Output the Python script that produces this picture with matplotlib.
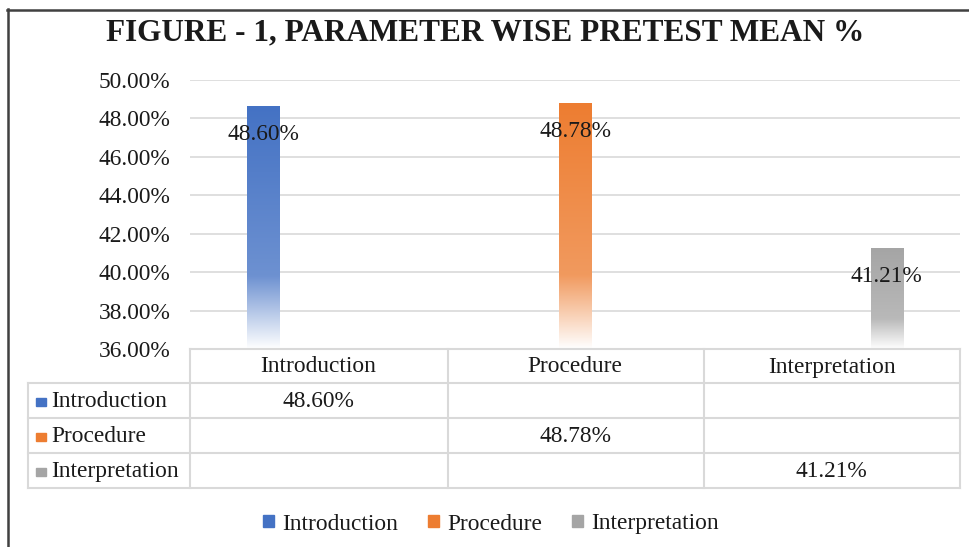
import matplotlib
matplotlib.use("Agg")
import matplotlib.pyplot as plt
import numpy as np
from matplotlib.lines import Line2D
from matplotlib.patches import Patch, Rectangle
from matplotlib.colors import to_rgb
from matplotlib.transforms import blended_transform_factory

categories = ["Introduction", "Procedure", "Interpretation"]
series_names = ["Introduction", "Procedure", "Interpretation"]
values = [48.60, 48.78, 41.21]
colors = ["#4472C4", "#ED7D31", "#A5A5A5"]
y_ticks = [36, 38, 40, 42, 44, 46, 48, 50]
title = "FIGURE - 1, PARAMETER WISE PRETEST MEAN %"

plt.rcParams['font.family'] = ['Liberation Serif', 'DejaVu Serif']

W, H = 969, 547
FS = 16.8
TXT = "#1a1a1a"
fig = plt.figure(figsize=(W / 100, H / 100), dpi=100)


def fx(px):
    return px / W


def fy(py):
    return 1 - py / H


ax = fig.add_axes([fx(190), fy(349), fx(960) - fx(190), fy(80) - fy(349)])
ax.set_xlim(-0.5, 2.5)
ax.set_ylim(y_ticks[0], y_ticks[-1])
ax.set_yticks(y_ticks)
ax.set_yticklabels(["%.2f%%" % t for t in y_ticks], fontsize=FS, color=TXT)
ax.tick_params(axis="y", length=0, pad=14)
ax.set_xticks([])
for s in ax.spines.values():
    s.set_visible(False)
ax.grid(axis="y", color="#d9d9d9", linewidth=1.2)
ax.set_axisbelow(True)

# bars: each series sits in its own slot of the cluster
offset = 0.215
bw = 0.125
x = np.arange(len(categories))


def gradient(c, n=256):
    base = np.array(to_rgb(c))
    t = np.linspace(0, 1, n)[:, None]
    mix = np.where(t < 0.7, t / 0.7 * 0.22, 0.22 + (t - 0.7) / 0.3 * 0.78)
    return base * (1 - mix) + mix * np.ones(3)


for i, name in enumerate(series_names):
    vals = [values[i] if j == i else np.nan for j in range(len(categories))]
    bars = ax.bar(x + (i - 1) * offset, np.array(vals) - y_ticks[0], bw,
                  bottom=y_ticks[0], color=colors[i], alpha=0, zorder=2)
    for r in bars.patches:
        if np.isnan(r.get_height()):
            continue
        x0, y0 = r.get_x(), r.get_y()
        img = gradient(colors[i])[:, None, :]
        ax.imshow(img, extent=[x0, x0 + r.get_width(), y0, y0 + r.get_height()],
                  aspect="auto", zorder=2, interpolation="bilinear")
        ax.annotate("%.2f%%" % values[i], (x0 + r.get_width() / 2, y0 + r.get_height()),
                    xytext=(0, -20), textcoords="offset points", ha="center", va="center",
                    fontsize=FS, color=TXT, zorder=3)
ax.set_xlim(-0.5, 2.5)
ax.set_ylim(y_ticks[0], y_ticks[-1])

# data table below the plot
tc = "#d9d9d9"
rows_y = [349, 383, 418, 453, 488]
col_x = [190, 448, 704, 960]
fig.add_artist(Line2D([fx(190), fx(960)], [fy(349)] * 2, color=tc, lw=1.5))
for yy in rows_y[1:]:
    fig.add_artist(Line2D([fx(28), fx(960)], [fy(yy)] * 2, color=tc, lw=1.5))
fig.add_artist(Line2D([fx(28)] * 2, [fy(383), fy(488)], color=tc, lw=1.5))
for xx in col_x:
    fig.add_artist(Line2D([fx(xx)] * 2, [fy(349), fy(488)], color=tc, lw=1.5))

tr = blended_transform_factory(ax.transData, fig.transFigure)
for j, cat in enumerate(categories):
    fig.text(x[j], fy((rows_y[0] + rows_y[1]) / 2 + 1), cat, transform=tr,
             ha="center", va="center", fontsize=FS, color=TXT)
for i, name in enumerate(series_names):
    yc = fy((rows_y[i + 1] + rows_y[i + 2]) / 2 + 1)
    fig.add_artist(Rectangle((fx(36), yc - 4 / H), 10 / W, 8 / H,
                             color=colors[i], transform=fig.transFigure))
    fig.text(fx(51), yc, name, ha="left", va="center", fontsize=FS, color=TXT)
    fig.text(x[i], yc, "%.2f%%" % values[i], transform=tr,
             ha="center", va="center", fontsize=FS, color=TXT)

handles = [Patch(color=c, label=n) for c, n in zip(colors, series_names)]
fig.legend(handles=handles, loc="center", bbox_to_anchor=(fx(491), fy(524)), ncol=3,
           frameon=False, fontsize=FS, handlelength=0.45, handleheight=0.4,
           handletextpad=0.35, columnspacing=1.3, labelcolor=TXT)

fig.text(fx(485), fy(33), title, ha="center", va="center", fontsize=22.5,
         fontweight="bold", color=TXT)

# chart border (left and top visible)
fig.add_artist(Line2D([fx(7.5)] * 2, [fy(9), 0], color="#404040", lw=1.8))
fig.add_artist(Line2D([fx(7), 1], [fy(9.5)] * 2, color="#404040", lw=1.8))

fig.savefig("out.png", dpi=100)
